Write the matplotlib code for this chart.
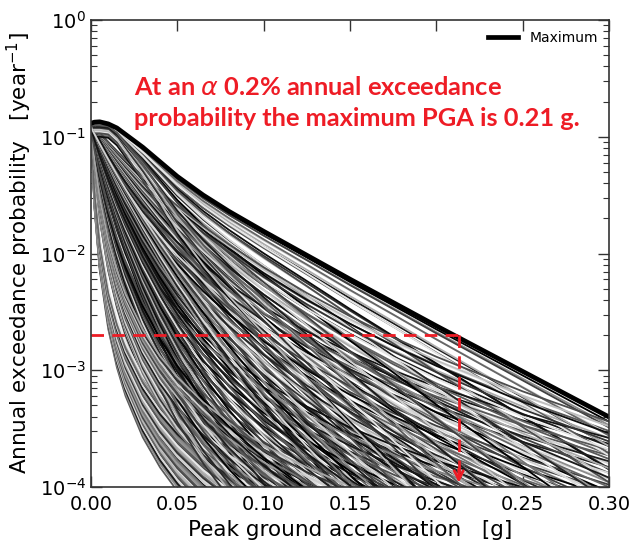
import numpy as np
import matplotlib
matplotlib.use('Agg')
import matplotlib.pyplot as plt

# ---------------- data ----------------
PGA_GRID = [0, 0.002, 0.005, 0.01, 0.015, 0.02, 0.03, 0.04, 0.05, 0.065,
            0.08, 0.1, 0.125, 0.15, 0.175, 0.2, 0.25, 0.3]

# maximum hazard curve, log10 of annual exceedance probability
MAX_LOG10 = [-0.885, -0.875, -0.872, -0.89, -0.925, -0.98, -1.09, -1.215,
             -1.34, -1.50, -1.64, -1.81, -2.015, -2.22, -2.42, -2.62,
             -3.01, -3.40]

# normalised decay shapes of the hazard-curve families (0 at PGA=0, 1 at 0.3 g)
SHAPE_A = [0, 0.1382, 0.2497, 0.3571, 0.4265, 0.4779, 0.5526, 0.6068, 0.6494,
           0.6999, 0.7402, 0.7837, 0.8274, 0.8632, 0.8935, 0.9198, 0.9639, 1.0]
SHAPE_B = [0, 0.0818, 0.1686, 0.2672, 0.3372, 0.3915, 0.4734, 0.5345, 0.5833,
           0.6420, 0.6892, 0.7406, 0.7926, 0.8354, 0.8717, 0.9034, 0.9565, 1.0]
SHAPE_C = [0, 0.0411, 0.0945, 0.1678, 0.2277, 0.2783, 0.3609, 0.4268, 0.4816,
           0.5498, 0.6063, 0.6690, 0.7336, 0.7876, 0.8340, 0.8745, 0.9432, 1.0]
SHAPE_D = [0, 0.0228, 0.0551, 0.1043, 0.1488, 0.1895, 0.2615, 0.3239, 0.3790,
           0.4510, 0.5134, 0.5854, 0.6622, 0.7281, 0.7859, 0.8373, 0.9257, 1.0]
SHAPE_E = [0, 0.0132, 0.0326, 0.0639, 0.0940, 0.1230, 0.1781, 0.2296, 0.2780,
           0.3455, 0.4077, 0.4838, 0.5697, 0.6473, 0.7180, 0.7829, 0.8988, 1.0]
SHAPE_M = [0, 0, 0, 0.002, 0.016, 0.038, 0.0815, 0.131, 0.181, 0.2445, 0.300,
           0.368, 0.449, 0.531, 0.610, 0.690, 0.845, 1.0]

# log10 value at PGA = 0 for each family
START_A = [-0.90, -0.95]
START_B = [-0.90, -0.95]
START_C = [-0.89, -0.94]
START_D = [-0.88, -0.93]
START_E = [-0.88, -0.92]
START_M = [-0.89, -0.90, -0.89, -0.92, -0.90, -0.95, -0.91, -0.93, -0.90,
           -0.96, -0.92, -0.94, -0.91, -0.98, -0.93, -0.90, -0.95, -0.92,
           -0.97, -0.91, -0.94, -0.99, -0.92, -0.95, -0.90, -0.96, -0.93,
           -1.00, -0.94, -0.97]

# total decay (decades) between PGA = 0 and 0.3 g for each curve
DEPTH_A = [4.75, 4.70, 4.65, 4.60, 4.55, 4.50, 4.45, 4.40, 4.35, 4.30, 4.25,
           4.20, 4.15, 4.10, 4.05, 4.00, 3.95, 3.90]
DEPTH_B = [4.50, 4.45, 4.40, 4.35, 4.30, 4.25, 4.20, 4.15, 4.10, 4.05, 4.00,
           3.95, 3.90, 3.85, 3.80, 3.75, 3.70, 3.65, 3.60]
DEPTH_C = [5.2, 5.1, 5.0, 4.9, 4.8, 4.7, 4.6, 4.5, 4.4, 4.3, 4.2, 4.1, 4.0,
           3.9, 3.8, 3.7, 3.6, 3.5, 3.4, 3.3]
DEPTH_D = [5.6, 5.5, 5.4, 5.3, 5.2, 5.1, 5.0, 4.9, 4.8, 4.7, 4.6, 4.5, 4.4,
           4.3, 4.2, 4.1, 4.0, 3.9, 3.8, 3.7, 3.6, 3.5, 3.4, 3.3, 3.2, 3.1,
           3.0, 2.9, 2.8, 2.7]
DEPTH_E = [5.0, 4.9, 4.8, 4.7, 4.6, 4.5, 4.4, 4.3, 4.2, 4.1, 4.0, 3.92, 3.84,
           3.76, 3.68, 3.60, 3.52, 3.44, 3.36, 3.28, 3.20, 3.12, 3.04, 2.96,
           2.88, 2.80, 2.73, 2.66, 2.60, 2.56]
DEPTH_M = [2.55, 2.57, 2.6, 2.63, 2.66, 2.7, 2.74, 2.78, 2.83, 2.88, 2.93,
           2.99, 3.05, 3.12, 3.19, 3.27, 3.35, 3.44, 3.53, 3.63, 3.73, 3.84,
           3.95, 4.07, 4.2, 4.33, 4.47, 4.6, 4.75, 4.9]

TARGET_PROB = 2e-3
TARGET_PGA = 0.213

X_TICKS = [0.00, 0.05, 0.10, 0.15, 0.20, 0.25, 0.30]

# ---------------- styles ----------------
SHADES_MED = ['0.45', '0.8', '0.2', '0.65', '0.9', '0.35', '0.55', '0.1',
              '0.85', '0.4', '0.72', '0.28', '0.6']
SHADES_DARK = ['0.0', '0.3', '0.1', '0.5', '0.05', '0.2', '0.7', '0.15',
               '0.4', '0.02', '0.25', '0.85', '0.12', '0.35', '0.08']
SHADES_MIX = ['0.0', '0.55', '0.25', '0.82', '0.4', '0.1', '0.68', '0.35',
              '0.9', '0.2', '0.05', '0.75', '0.3', '0.6', '0.15', '0.86',
              '0.45']
RED = '#ee1c25'

fig = plt.figure(figsize=(6.34, 5.5), dpi=100)
ax = fig.add_axes([91 / 634, 1 - 487 / 550, 518 / 634, 467 / 550])

x = np.array(PGA_GRID)
curves = []   # (log10 values, shade)
groups = [(SHAPE_A, START_A, DEPTH_A, SHADES_MED),
          (SHAPE_B, START_B, DEPTH_B, SHADES_MED),
          (SHAPE_C, START_C, DEPTH_C, SHADES_DARK),
          (SHAPE_D, START_D, DEPTH_D, SHADES_DARK),
          (SHAPE_E, START_E, DEPTH_E, SHADES_MIX)]
for shape, starts, depths, shades in groups:
    k = 0
    for s0 in starts:
        for d in depths:
            curves.append((s0 - d * np.array(shape), shades[k % len(shades)]))
            k += 1
for k, (s0, d) in enumerate(zip(START_M, DEPTH_M)):
    curves.append((s0 - d * np.array(SHAPE_M), SHADES_MIX[k % len(SHADES_MIX)]))

n = len(curves)
stride = 53
while np.gcd(stride, n) != 1:
    stride += 1
for j in range(n):
    vals, shade = curves[(j * stride) % n]
    ax.plot(x, 10 ** vals, color=shade, lw=1.3, solid_capstyle='butt', zorder=2)

ax.plot(x, 10 ** np.array(MAX_LOG10), color='black', lw=3.4, label='Maximum', zorder=4)

# red dashed guide lines
ax.plot([0, TARGET_PGA], [TARGET_PROB, TARGET_PROB], color=RED, lw=2,
        ls=(0, (4.5, 3)), zorder=5)
ax.plot([TARGET_PGA, TARGET_PGA], [TARGET_PROB, 1.2e-4], color=RED, lw=2,
        ls=(0, (4.5, 3)), zorder=5)
ax.annotate('', xy=(TARGET_PGA, 1.03e-4), xytext=(TARGET_PGA, 1.5e-4),
            arrowprops=dict(arrowstyle='->', color=RED, lw=2, mutation_scale=16),
            zorder=6)

ax.set_yscale('log')
ax.set_xlim(0, 0.3)
ax.set_ylim(1e-4, 1)
ax.set_xticks(X_TICKS)
ax.set_xticklabels(['%.2f' % v for v in X_TICKS])
ax.tick_params(which='both', direction='in', top=True, right=True, labelsize=14,
               color='#333333')
ax.tick_params(which='major', length=8, width=1)
ax.tick_params(which='minor', length=4, width=0.8)
ax.tick_params(axis='x', pad=6)
for sp in ax.spines.values():
    sp.set_linewidth(1.2)
    sp.set_color('#333333')
    sp.set_zorder(7)

ax.set_xlabel('Peak ground acceleration   [g]', fontsize=15.5, labelpad=4)
ax.set_ylabel(r'Annual exceedance probability   [year$^{-1}$]', fontsize=15.5,
              labelpad=4)

leg = ax.legend(loc='upper right', frameon=False, fontsize=10, handlelength=2.2,
                borderaxespad=0.4)

fig.text(134 / 634, 1 - 76 / 550,
         'At an $\\alpha$ 0.2% annual exceedance\nprobability the maximum PGA is 0.21 g.',
         color=RED, fontsize=18.3, fontweight='bold', family='Lato',
         ha='left', va='top', linespacing=1.4)

fig.savefig('out.png', dpi=100)
